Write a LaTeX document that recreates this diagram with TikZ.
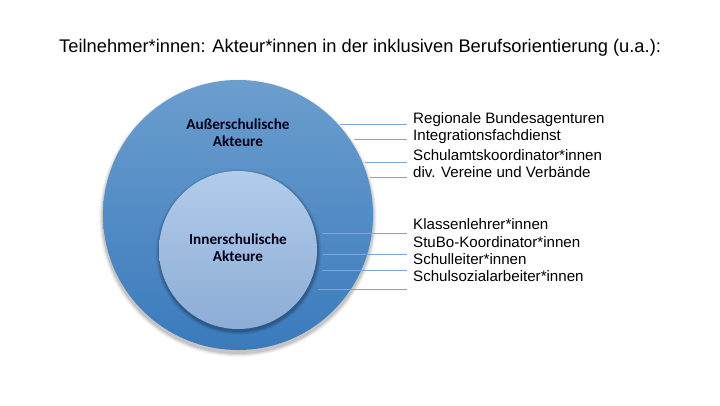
\documentclass[tikz,border=0pt]{standalone}
\usepackage{fontspec}
\setmainfont{Liberation Sans}
\newfontfamily\calib{Carlito}
\begin{document}
\begin{tikzpicture}[x=1pt,y=-1pt,
  label/.style={anchor=west, inner sep=0pt, font=\fontsize{15.1}{17}\selectfont, text=black},
  circlabel/.style={align=center, inner sep=0pt, font=\calib\bfseries\fontsize{15.2}{17}\selectfont, text=black!90!blue},
  conn/.style={draw=lineblue, line width=0.8pt}
]
\definecolor{outtop}{HTML}{6C9ECE}
\definecolor{outbot}{HTML}{3A7ABC}
\definecolor{intop}{HTML}{B2CCEA}
\definecolor{inbot}{HTML}{8DADD6}
\definecolor{lineblue}{HTML}{7FA3DC}
\useasboundingbox (0,0) rectangle (720,405);
\fill[white] (0,0) rectangle (720,405);

% title
\node[anchor=west, inner sep=0pt, font=\fontsize{18.3}{21}\selectfont] (title) at (59,48)
  {Teilnehmer*innen: Akteur*innen in der inklusiven Berufsorientierung (u.a.):};

% circle centres
\coordinate (oc) at (238,215);
\coordinate (ic) at (238,250);

% outer circle with soft shadow
\foreach \d/\o in {4/0.03,3/0.05,2/0.07,1/0.09}
  \fill[black, fill opacity=\o] ([yshift=-3pt]oc) circle ({135+\d});
\shade[top color=outtop, bottom color=outbot] (oc) circle (135);

% inner circle with shadow
\foreach \d/\o in {4/0.04,3/0.06,2/0.09,1/0.12}
  \fill[black, fill opacity=\o] ([xshift=0.5pt,yshift=-2pt]ic) circle ({79+\d});
\shade[top color=intop, bottom color=inbot] (ic) circle (79);

\node[circlabel] (outlab) at (238,133) {Außerschulische\\Akteure};
\node[circlabel] (inlab) at (238,248) {Innerschulische\\Akteure};

% labels
\node[label] (l1) at (413,120) {Regionale Bundesagenturen};
\node[label] (l2) at (413,137) {Integrationsfachdienst};
\node[label] (l3) at (413,155) {Schulamtskoordinator*innen};
\node[label] (l4) at (413,172) {div. Vereine und Verbände};
\node[label] (l5) at (413,224) {Klassenlehrer*innen};
\node[label] (l6) at (413,242) {StuBo-Koordinator*innen};
\node[label] (l7) at (413,259) {Schulleiter*innen};
\node[label] (l8) at (413,276) {Schulsozialarbeiter*innen};

% connector endpoints
\coordinate (a1) at (340,124); \coordinate (b1) at (407,124);
\coordinate (a2) at (354,139); \coordinate (b2) at (407,139);
\coordinate (a3) at (365,162); \coordinate (b3) at (407,162);
\coordinate (a4) at (370,177); \coordinate (b4) at (407,177);
\coordinate (a5) at (322,233); \coordinate (b5) at (407,233);
\coordinate (a6) at (323,254); \coordinate (b6) at (407,254);
\coordinate (a7) at (322,270); \coordinate (b7) at (407,270);
\coordinate (a8) at (318,289); \coordinate (b8) at (407,289);
\foreach \i in {1,...,8} \draw[conn] (a\i) -- (b\i);
\end{tikzpicture}
\end{document}
